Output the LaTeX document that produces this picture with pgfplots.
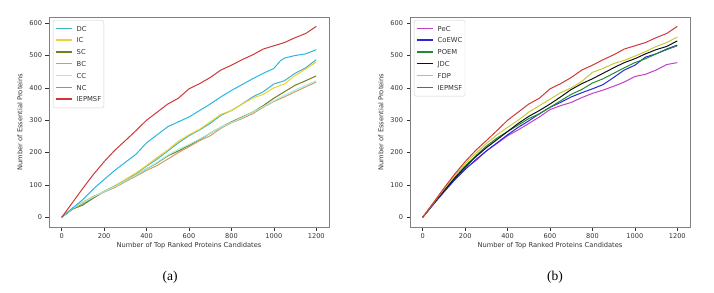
\documentclass[border=0pt]{standalone}
\usepackage{pgfplots}
\pgfplotsset{compat=1.18}
\usepackage{fontspec}
\setmainfont{DejaVu Sans}
\newfontfamily\capfont{Liberation Serif}
\definecolor{cDC}{HTML}{3CB4C8}
\definecolor{cIC}{HTML}{F0D030}
\definecolor{cSC}{HTML}{7A7A1E}
\definecolor{cBC}{HTML}{D09A6A}
\definecolor{cCC}{HTML}{A0F0E0}
\definecolor{cNC}{HTML}{28B8E0}
\definecolor{cRED}{HTML}{D03838}
\definecolor{cPeC}{HTML}{C040C8}
\definecolor{cCo}{HTML}{2828D8}
\definecolor{cPO}{HTML}{208C30}
\definecolor{cJDC}{HTML}{101010}
\definecolor{cFDP}{HTML}{C8C83C}
\definecolor{txt}{HTML}{333333}
\newcommand{\li}[1]{\textcolor{#1}{\rule[2.1pt]{16pt}{1.4pt}}}
\tikzset{
  leg/.style={anchor=north west, draw=black!18, fill=white, rounded corners=1.5pt,
    inner sep=2.6pt, font=\fontsize{6.8}{11.8}\selectfont, text=txt}
}
\pgfplotsset{
  myaxis/.style={
    scale only axis, width=280pt, height=210pt,
    xmin=-60, xmax=1260, ymin=-30, ymax=619,
    xtick={0,200,...,1200}, ytick={0,100,...,600},
    tick align=outside, tick pos=left,
    major tick length=3.5pt,
    every tick/.style={txt, line width=0.6pt},
    axis line style={gray, line width=0.8pt},
    /pgf/number format/assume math mode=true,
    /pgf/number format/1000 sep={},
    tick label style={font=\fontsize{6.6}{7}\selectfont, text=txt},
    label style={font=\fontsize{6.7}{7}\selectfont, text=txt},
    xlabel={Number of Top Ranked Proteins Candidates},
    ylabel={Number of Essential Proteins},
    xlabel style={at={(axis description cs:0.5,-0.09)}, anchor=center},
    ylabel style={at={(axis description cs:-0.104,0.5)}, anchor=center},
    every axis plot/.append style={line width=1pt},
  }
}
\begin{document}
\begin{tikzpicture}
\useasboundingbox (0pt,0pt) rectangle (714pt,-292pt);
\begin{axis}[myaxis, at={(49pt,-227pt)}, anchor=south west]
\addplot[draw=cDC] coordinates {(0,0)(50,25)(100,42)(150,60)(200,80)(250,97)(300,115)(350,135)(400,158)(450,180)(500,205)(550,230)(600,252)(650,270)(700,290)(750,315)(800,330)(850,350)(900,372)(950,388)(1000,412)(1050,422)(1100,445)(1150,462)(1200,487)};
\addplot[draw=cIC] coordinates {(0,0)(50,28)(100,48)(150,62)(200,80)(250,97)(300,117)(350,137)(400,160)(450,185)(500,208)(550,235)(600,255)(650,272)(700,295)(750,318)(800,330)(850,350)(900,368)(950,380)(1000,400)(1050,412)(1100,438)(1150,458)(1200,480)};
\addplot[draw=cSC] coordinates {(0,0)(50,25)(100,38)(150,60)(200,80)(250,95)(300,113)(350,130)(400,150)(450,168)(500,190)(550,205)(600,222)(650,240)(700,260)(750,278)(800,295)(850,310)(900,325)(950,345)(1000,368)(1050,388)(1100,408)(1150,422)(1200,437)};
\addplot[draw=cBC] coordinates {(0,0)(50,27)(100,45)(150,65)(200,78)(250,92)(300,110)(350,127)(400,145)(450,160)(500,180)(550,200)(600,218)(650,237)(700,252)(750,275)(800,292)(850,305)(900,320)(950,340)(1000,358)(1050,372)(1100,388)(1150,403)(1200,418)};
\addplot[draw=cCC] coordinates {(0,0)(50,27)(100,45)(150,63)(200,80)(250,95)(300,113)(350,130)(400,150)(450,170)(500,192)(550,210)(600,225)(650,242)(700,260)(750,278)(800,293)(850,308)(900,325)(950,342)(1000,360)(1050,377)(1100,393)(1150,408)(1200,422)};
\addplot[draw=cNC] coordinates {(0,0)(50,28)(100,55)(150,88)(200,117)(250,145)(300,170)(350,195)(400,230)(450,255)(500,280)(550,295)(600,310)(650,330)(700,350)(750,372)(800,392)(850,410)(900,428)(950,445)(1000,460)(1030,483)(1050,492)(1100,500)(1150,505)(1200,518)};
\addplot[draw=cRED] coordinates {(0,0)(50,45)(100,90)(150,133)(200,172)(250,207)(300,237)(350,268)(400,300)(450,325)(500,350)(550,368)(600,397)(650,413)(700,432)(750,455)(800,470)(850,487)(900,502)(950,520)(1000,530)(1050,540)(1100,555)(1150,568)(1200,590)};
\node[leg] at (rel axis cs:0.014,0.986) {\begin{tabular}{@{}l@{\hspace{5pt}}l@{}}
\li{cDC} & DC\\ \li{cIC} & IC\\ \li{cSC} & SC\\ \li{cBC} & BC\\ \li{cCC} & CC\\ \li{cNC} & NC\\ \li{cRED} & IEPMSF\end{tabular}};
\end{axis}
\begin{axis}[myaxis, at={(410pt,-227pt)}, anchor=south west]
\addplot[draw=cPeC] coordinates {(0,0)(50,40)(100,80)(150,118)(200,150)(250,175)(300,205)(350,228)(400,252)(450,270)(500,290)(550,310)(600,333)(650,345)(700,355)(750,370)(800,383)(850,393)(900,405)(950,418)(1000,435)(1050,442)(1100,455)(1150,472)(1200,478)};
\addplot[draw=cCo] coordinates {(0,0)(50,40)(100,78)(150,115)(200,148)(250,178)(300,205)(350,230)(400,255)(450,278)(500,298)(550,320)(600,340)(650,355)(700,372)(750,385)(800,397)(850,410)(900,432)(950,455)(1000,470)(1050,495)(1100,505)(1150,520)(1200,532)};
\addplot[draw=cPO] coordinates {(0,0)(50,42)(100,83)(150,123)(200,158)(250,190)(300,220)(350,245)(400,265)(450,285)(500,305)(550,320)(600,340)(650,360)(700,380)(750,395)(800,415)(850,428)(900,445)(950,462)(1000,478)(1050,490)(1100,505)(1150,518)(1200,530)};
\addplot[draw=cJDC] coordinates {(0,0)(50,42)(100,82)(150,120)(200,155)(250,187)(300,215)(350,240)(400,265)(450,290)(500,312)(550,330)(600,350)(650,372)(700,395)(750,413)(800,428)(850,445)(900,462)(950,478)(1000,490)(1050,505)(1100,518)(1150,528)(1200,545)};
\addplot[draw=cFDP] coordinates {(0,0)(50,44)(100,87)(150,128)(200,165)(250,198)(300,228)(350,255)(400,278)(450,300)(500,325)(550,345)(600,365)(650,385)(700,400)(750,420)(800,448)(850,460)(900,475)(950,485)(1000,498)(1050,512)(1100,528)(1150,540)(1200,557)};
\addplot[draw=cRED] coordinates {(0,0)(50,45)(100,90)(150,133)(200,172)(250,207)(300,237)(350,268)(400,300)(450,325)(500,350)(550,368)(600,397)(650,413)(700,432)(750,455)(800,470)(850,487)(900,502)(950,520)(1000,530)(1050,540)(1100,555)(1150,568)(1200,590)};
\node[leg] at (rel axis cs:0.014,0.986) {\begin{tabular}{@{}l@{\hspace{5pt}}l@{}}
\li{cPeC} & PeC\\ \li{cCo} & CoEWC\\ \li{cPO} & POEM\\ \li{cJDC} & JDC\\ \li{cFDP} & FDP\\ \li{cRED} & IEPMSF\end{tabular}};
\end{axis}
\node[font={\capfont\fontsize{13.5}{15}\selectfont}] at (170pt,-277pt) {(a)};
\node[font={\capfont\fontsize{13.5}{15}\selectfont}] at (555pt,-277pt) {(b)};
\end{tikzpicture}
\end{document}
